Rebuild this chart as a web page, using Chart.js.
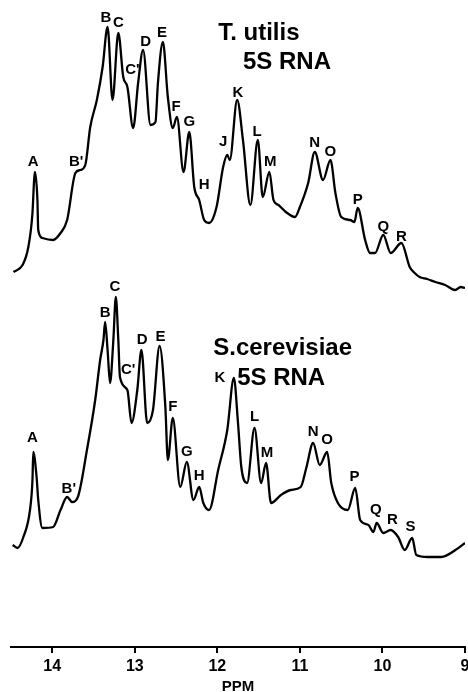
<!DOCTYPE html>
<html>
<head>
<meta charset="utf-8">
<script src="https://cdn.jsdelivr.net/npm/chart.js@4/dist/chart.umd.min.js"></script>
<style>
  html, body { margin: 0; padding: 0; background: #fff; }
  canvas { display: block; }
</style>
</head>
<body>
<canvas id="nmrChart" width="468" height="692"></canvas>
<script>
// T. utilis 5S RNA trace (ppm, intensity a.u.)
const utilisPpm = [14.47, 14.36, 14.29, 14.24, 14.22, 14.21, 14.18, 14.17, 14.12, 13.99, 13.90, 13.82, 13.72, 13.66, 13.60, 13.54, 13.46, 13.39, 13.33,
  13.27, 13.20, 13.14, 13.09, 13.02, 12.96, 12.90, 12.81, 12.75, 12.72, 12.66, 12.60, 12.54, 12.49, 12.41, 12.34, 12.28, 12.22, 12.16, 12.10,
  12.01, 11.93, 11.88, 11.85, 11.76, 11.69, 11.60, 11.51, 11.45, 11.37, 11.32, 11.26, 11.17, 11.06, 11.00, 10.90, 10.82, 10.72, 10.63, 10.57,
  10.50, 10.39, 10.34, 10.30, 10.21, 10.15, 10.09, 9.99, 9.90, 9.77, 9.67, 9.61, 9.55, 9.46, 9.36, 9.24, 9.12, 9.05, 9.00];
const utilisInt = [375, 382, 400, 434, 467, 475, 447, 417, 409, 407, 414, 427, 474, 477, 482, 520, 547, 580, 620,
  547, 614, 570, 560, 519, 564, 597, 522, 525, 564, 605, 550, 519, 530, 475, 515, 460, 447, 427, 424,
  440, 480, 492, 487, 547, 507, 442, 507, 450, 475, 447, 442, 435, 430, 440, 464, 495, 467, 487, 454,
  430, 427, 425, 439, 407, 394, 394, 412, 394, 404, 380, 374, 370, 368, 365, 362, 357, 360, 359];

// S. cerevisiae 5S RNA trace
const cerevPpm = [14.48, 14.42, 14.35, 14.27, 14.24, 14.23, 14.19, 14.17, 14.12, 13.99, 13.90, 13.82, 13.76, 13.69, 13.58, 13.48, 13.42, 13.38, 13.36, 13.33,
  13.30, 13.26, 13.23, 13.20, 13.18, 13.09, 13.04, 12.97, 12.92, 12.85, 12.78, 12.70, 12.63, 12.60, 12.54, 12.45, 12.37, 12.29, 12.22, 12.17,
  12.10, 11.99, 11.88, 11.80, 11.75, 11.71, 11.64, 11.55, 11.47, 11.41, 11.35, 11.23, 11.11, 10.99, 10.92, 10.84, 10.76, 10.67, 10.62, 10.54,
  10.42, 10.33, 10.27, 10.17, 10.11, 10.07, 9.99, 9.90, 9.81, 9.73, 9.64, 9.59, 9.45, 9.29, 9.08, 9.00];
const cerevInt = [102, 99, 110, 137, 167, 195, 170, 147, 119, 120, 137, 150, 145, 150, 197, 247, 287, 307, 325, 297,
  264, 307, 350, 307, 270, 257, 224, 257, 297, 224, 237, 301, 240, 187, 229, 160, 185, 147, 160, 144,
  137, 177, 217, 269, 224, 180, 164, 219, 164, 184, 144, 152, 157, 160, 180, 204, 182, 195, 164, 144,
  137, 159, 127, 122, 115, 124, 114, 117, 110, 97, 109, 92, 90, 90, 99, 104];

// peak assignments: name, ppm, level where the letter sits
const utilisPeaks = ['A', "B'", 'B', 'C', "C'", 'D', 'E', 'F', 'G', 'H', 'J', 'K', 'L', 'M', 'N', 'O', 'P', 'Q', 'R'];
const utilisPeakPpm = [14.23, 13.71, 13.35, 13.20, 13.03, 12.87, 12.67, 12.50, 12.34, 12.16, 11.93, 11.75, 11.52, 11.36, 10.82, 10.63, 10.30, 9.99, 9.77];
const utilisPeakLevel = [485, 485, 629, 624, 577, 605, 614, 540, 525, 462, 505, 554, 515, 485, 504, 495, 447, 420, 410];

const cerevPeaks = ['A', "B'", 'B', 'C', "C'", 'D', 'E', 'F', 'G', 'H', 'K', 'L', 'M', 'N', 'O', 'P', 'Q', 'R', 'S'];
const cerevPeakPpm = [14.24, 13.80, 13.36, 13.24, 13.08, 12.91, 12.69, 12.54, 12.37, 12.22, 11.97, 11.55, 11.40, 10.84, 10.67, 10.34, 10.08, 9.88, 9.66];
const cerevPeakLevel = [209, 158, 334, 360, 277, 307, 310, 240, 195, 171, 269, 230, 194, 215, 207, 170, 137, 127, 120];

const tickValues = [14, 13, 12, 11, 10, 9];

function toPoints(xs, ys) {
  return xs.map((v, i) => ({ x: v, y: ys[i] }));
}

const FONT = '"Liberation Sans", Arial, Helvetica, sans-serif';

const peakLabels = {
  id: 'peakLabels',
  afterDatasetsDraw(chart) {
    const { ctx, scales: { x, y } } = chart;
    ctx.save();
    ctx.fillStyle = '#000';
    ctx.textAlign = 'center';
    ctx.textBaseline = 'middle';
    ctx.font = 'bold 15px ' + FONT;
    utilisPeaks.forEach((name, i) => {
      ctx.fillText(name, x.getPixelForValue(utilisPeakPpm[i]), y.getPixelForValue(utilisPeakLevel[i]));
    });
    cerevPeaks.forEach((name, i) => {
      ctx.fillText(name, x.getPixelForValue(cerevPeakPpm[i]), y.getPixelForValue(cerevPeakLevel[i]));
    });

    // sample names
    ctx.font = 'bold 24px ' + FONT;
    ctx.textAlign = 'left';
    ctx.fillText('T. utilis', x.getPixelForValue(11.99), y.getPixelForValue(614));
    ctx.fillText('5S RNA', x.getPixelForValue(11.69), y.getPixelForValue(585));
    ctx.fillText('S.cerevisiae', x.getPixelForValue(12.05), y.getPixelForValue(299));
    ctx.fillText('5S RNA', x.getPixelForValue(11.76), y.getPixelForValue(269));
    ctx.restore();
  }
};

const ctx = document.getElementById('nmrChart').getContext('2d');

new Chart(ctx, {
  type: 'line',
  data: {
    datasets: [
      {
        label: 'T. utilis 5S RNA',
        data: toPoints(utilisPpm, utilisInt),
        borderColor: '#000',
        borderWidth: 2.3,
        pointRadius: 0,
        fill: false,
        cubicInterpolationMode: 'monotone'
      },
      {
        label: 'S. cerevisiae 5S RNA',
        data: toPoints(cerevPpm, cerevInt),
        borderColor: '#000',
        borderWidth: 2.3,
        pointRadius: 0,
        fill: false,
        cubicInterpolationMode: 'monotone'
      }
    ]
  },
  options: {
    responsive: false,
    animation: false,
    devicePixelRatio: 1,
    layout: { padding: { left: 11, right: 3, top: 0, bottom: 0 } },
    plugins: {
      legend: { display: false },
      tooltip: { enabled: false }
    },
    scales: {
      x: {
        type: 'linear',
        reverse: true,
        min: 9,
        max: 14.5,
        afterFit: s => { s.height = 45; s.paddingLeft = 0; s.paddingRight = 0; },
        afterBuildTicks: s => { s.ticks = tickValues.map(v => ({ value: v })); },
        ticks: {
          color: '#000',
          padding: 4,
          maxRotation: 0,
          font: { family: FONT, size: 16, weight: 'bold' }
        },
        grid: {
          drawOnChartArea: false,
          drawTicks: true,
          tickLength: 6,
          color: '#000',
          lineWidth: 2
        },
        border: { display: true, color: '#000', width: 2 },
        title: {
          display: true,
          text: 'PPM',
          color: '#000',
          padding: 0,
          font: { family: FONT, size: 15, weight: 'bold', lineHeight: 0.7 }
        }
      },
      y: {
        display: false,
        min: 0,
        max: 647
      }
    }
  },
  plugins: [peakLabels]
});
</script>
</body>
</html>
